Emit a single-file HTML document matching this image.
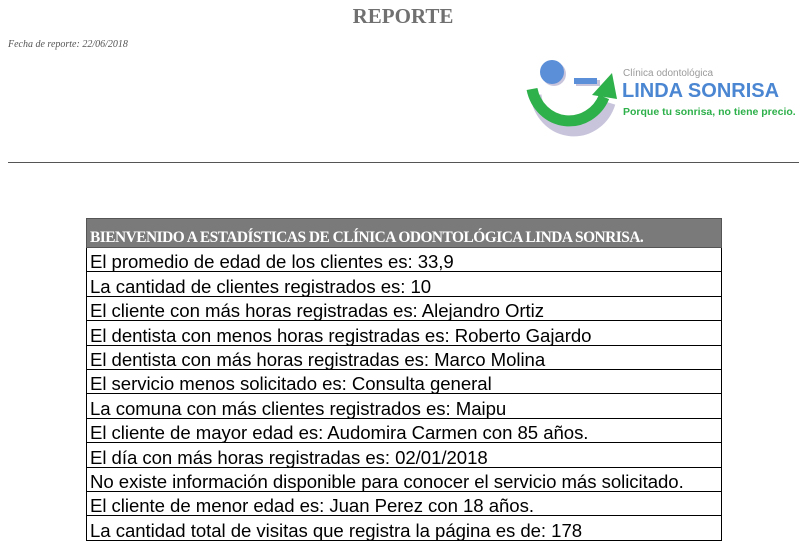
<!DOCTYPE html>
<html><head><meta charset="utf-8"><style>
body{margin:0;width:799px;height:552px;background:#fff;position:relative;overflow:hidden;font-family:"Liberation Sans",sans-serif}
.abs{position:absolute}
table{border-collapse:collapse;position:absolute;left:86px;top:218px;width:636px}
td{border:1px solid #000;height:23.4px;padding:0 0 0 3px;font-size:18.6px;line-height:18px;color:#000;white-space:nowrap;vertical-align:bottom;letter-spacing:-0.05px}
th{background:#7a7a7a;color:#fff;font-family:"Liberation Serif",serif;font-weight:bold;font-size:15.4px;text-align:left;height:28px;padding:0 0 0 3px;vertical-align:bottom;border:1px solid #555;letter-spacing:-0.5px}
</style></head><body>
<div class="abs" style="left:0;width:806px;top:4px;text-align:center;font-family:'Liberation Serif',serif;font-weight:bold;font-size:21px;color:#707070">REPORTE</div>
<div class="abs" style="left:8px;top:39px;font-family:'Liberation Serif',serif;font-style:italic;font-size:10px;color:#555">Fecha de reporte: 22/06/2018</div>
<svg class="abs" style="left:520px;top:55px" width="279" height="90">
<path d="M12 36 A38 40 0 0 0 86 44" stroke="#c8c4dc" stroke-width="11" fill="none" transform="translate(4,4)"/>
<path d="M12 34 A38 40 0 0 0 84 42" stroke="#2eb04a" stroke-width="11" fill="none"/>
<polygon points="72,40 97,44 92,18" fill="#2eb04a"/>
<circle cx="34" cy="19" r="12" fill="#c8c4dc"/>
<circle cx="32" cy="17" r="12" fill="#5b8fd8"/>
<rect x="56" y="25" width="24" height="6" fill="#c8c4dc"/>
<rect x="54" y="23" width="23" height="6" fill="#5b8fd8"/>
<text x="103" y="21" font-family="Liberation Sans,sans-serif" font-size="10" fill="#9a9a9a">Clínica odontológica</text>
<text x="102" y="42" font-family="Liberation Sans,sans-serif" font-size="20" font-weight="bold" fill="#4a86d2">LINDA SONRISA</text>
<text x="103" y="60" font-family="Liberation Sans,sans-serif" font-size="10.5" font-weight="bold" fill="#2eb04a">Porque tu sonrisa, no tiene precio.</text>
</svg>
<div class="abs" style="left:8px;top:162px;width:791px;height:1px;background:#555"></div>
<table>
<tr><th>BIENVENIDO A ESTADÍSTICAS DE CLÍNICA ODONTOLÓGICA LINDA SONRISA.</th></tr>
<tr><td>El promedio de edad de los clientes es: 33,9</td></tr>
<tr><td>La cantidad de clientes registrados es: 10</td></tr>
<tr><td>El cliente con más horas registradas es: Alejandro Ortiz</td></tr>
<tr><td>El dentista con menos horas registradas es: Roberto Gajardo</td></tr>
<tr><td>El dentista con más horas registradas es: Marco Molina</td></tr>
<tr><td>El servicio menos solicitado es: Consulta general</td></tr>
<tr><td>La comuna con más clientes registrados es: Maipu</td></tr>
<tr><td>El cliente de mayor edad es: Audomira Carmen con 85 años.</td></tr>
<tr><td>El día con más horas registradas es: 02/01/2018</td></tr>
<tr><td>No existe información disponible para conocer el servicio más solicitado.</td></tr>
<tr><td>El cliente de menor edad es: Juan Perez con 18 años.</td></tr>
<tr><td>La cantidad total de visitas que registra la página es de: 178</td></tr>
</table>
</body></html>
